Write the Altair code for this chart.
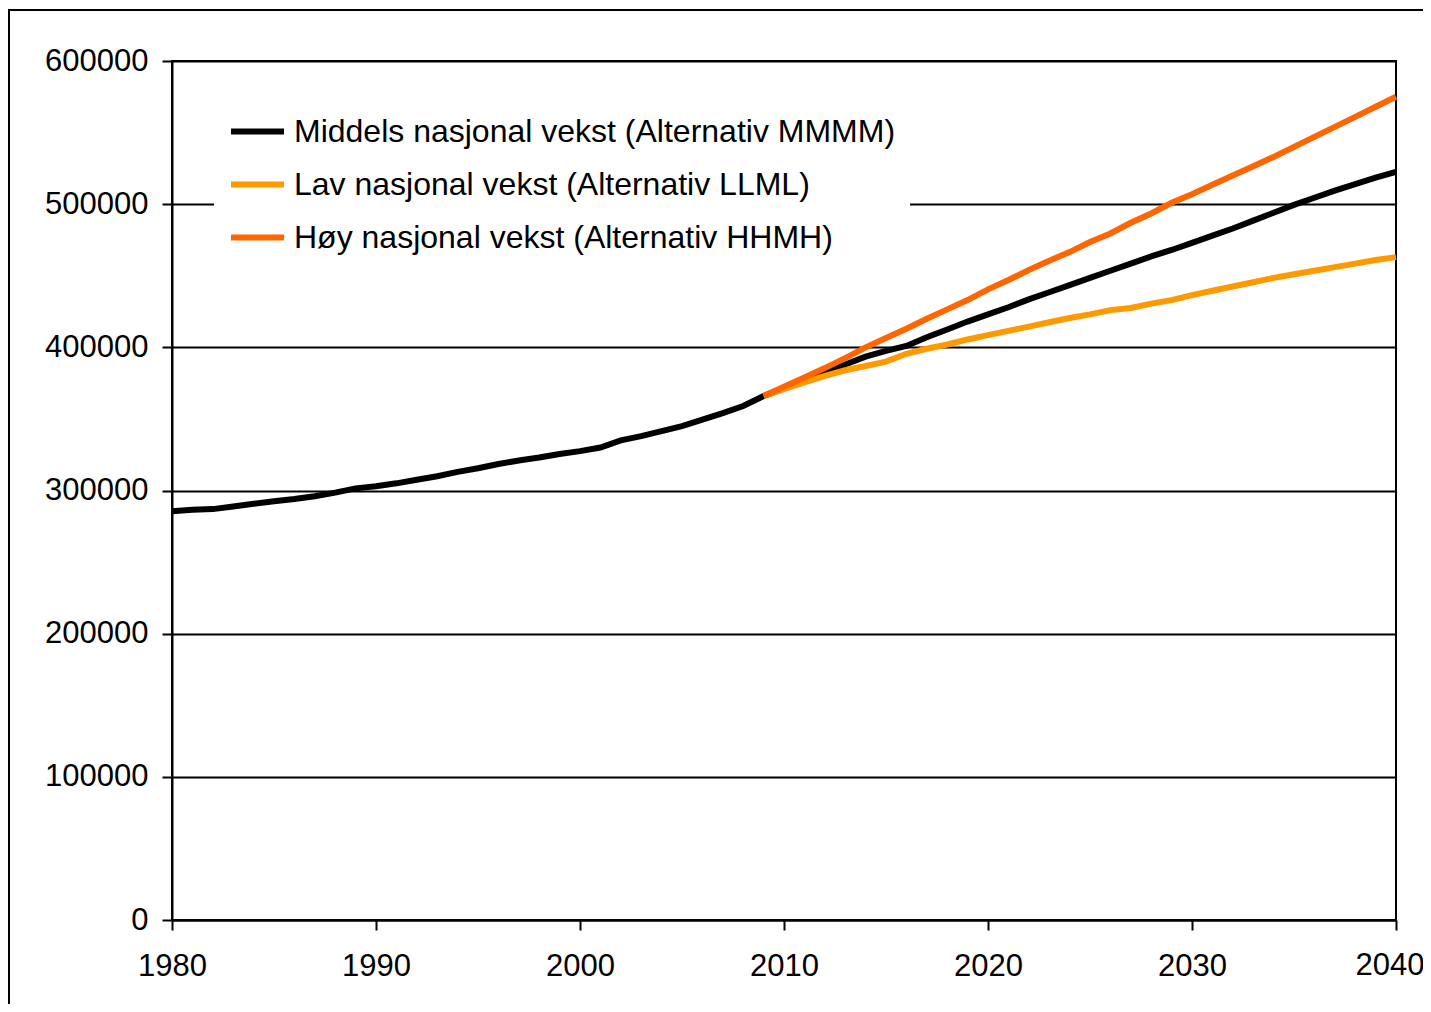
import altair as alt
import pandas as pd

S_M = "Middels nasjonal vekst (Alternativ MMMM)"
S_L = "Lav nasjonal vekst (Alternativ LLML)"
S_H = "Høy nasjonal vekst (Alternativ HHMH)"

hist_years = list(range(1980, 2009))
hist_values = [285500, 286500, 287000, 288800, 290700, 292500, 294000, 296000,
               298500, 301500, 303000, 305000, 307500, 310000, 313000, 315500,
               318500, 321000, 323000, 325500, 327500, 330000, 335000, 338000,
               341500, 345000, 349500, 354000, 359000]

proj_years = list(range(2009, 2041))
middels = [366000, 371500, 377000, 382000, 388000, 393500, 397500, 401000,
           407000, 412500, 418000, 423000, 428000, 433500, 438500, 443500,
           448500, 453500, 458500, 463500, 468000, 473000, 478000, 483000,
           488500, 494000, 499500, 504500, 509500, 514000, 518500, 522500]
lav = [366000, 370800, 375500, 380000, 384000, 387000, 390000, 395500,
       399000, 402000, 405500, 408500, 411500, 414500, 417500, 420500,
       423000, 426000, 427500, 430500, 433000, 436500, 439500, 442500,
       445500, 448500, 451000, 453500, 456000, 458500, 461000, 463000]
hoy = [366000, 372500, 379000, 385500, 392500, 400000, 406500, 413000,
       420000, 426500, 433000, 440500, 447000, 454000, 460500, 466500,
       473500, 479500, 487000, 493500, 501000, 507000, 513500, 520000,
       526500, 533000, 540000, 547000, 554000, 561000, 568000, 575000]

x_ticks = [1980, 1990, 2000, 2010, 2020, 2030, 2040]
y_ticks = [0, 100000, 200000, 300000, 400000, 500000, 600000]

series_names = [S_M, S_L, S_H]
series_colors = ["#000000", "#FF9900", "#FF6600"]

rows = []
for yr, v in zip(hist_years, hist_values):
    rows.append({"year": yr, "value": v, "series": S_M})
for yr, v in zip(proj_years, middels):
    rows.append({"year": yr, "value": v, "series": S_M})
for yr, v in zip(proj_years, lav):
    rows.append({"year": yr, "value": v, "series": S_L})
for yr, v in zip(proj_years, hoy):
    rows.append({"year": yr, "value": v, "series": S_H})
df = pd.DataFrame(rows)

FONT = "Liberation Sans"
last_tick = x_ticks[-1]

x_scale = alt.Scale(domain=[1980, 2040], nice=False, zero=False)

lines = alt.Chart(df).mark_line(strokeWidth=6).encode(
    x=alt.X("year:Q", scale=x_scale,
            axis=alt.Axis(values=x_ticks, format="d", title=None, grid=False,
                          labelFlush=False, labelOverlap=False,
                          tickSize=10, labelPadding=21,
                          labelExpr="datum.value == %d ? '' : datum.label" % last_tick)),
    y=alt.Y("value:Q",
            scale=alt.Scale(domain=[0, 600000], nice=False),
            axis=alt.Axis(values=y_ticks, format="d", title=None, grid=True,
                          tickSize=10, labelPadding=14, labelOverlap=False)),
    color=alt.Color("series:N",
                    scale=alt.Scale(domain=series_names, range=series_colors),
                    legend=alt.Legend(title=None, orient="none", legendX=42, legendY=27,
                                      symbolType="stroke", symbolSize=2809,
                                      symbolStrokeWidth=6, labelFontSize=32,
                                      labelFont=FONT, labelColor="black",
                                      fillColor="white", padding=14,
                                      rowPadding=7, labelOffset=7,
                                      labelLimit=1000)),
)

# last x-axis label, nudged so it stays inside the page
last_label = alt.Chart(pd.DataFrame({"year": [last_tick], "label": [str(last_tick)]})).mark_text(
    font=FONT, fontSize=31, color="black", baseline="top", align="center", dx=-6
).encode(
    x=alt.X("year:Q", scale=x_scale),
    y=alt.value(890),
    text="label:N",
)

frame = alt.Chart(pd.DataFrame({"a": [0]})).mark_rect(
    fillOpacity=0, stroke="black", strokeWidth=2
).encode(
    x=alt.value(-163), x2=alt.value(1300),
    y=alt.value(-51), y2=alt.value(1000)
)

chart = alt.layer(frame, lines, last_label).properties(
    width=1224, height=859,
    autosize=alt.AutoSizeParams(type="none"),
    padding={"left": 164, "top": 53, "right": 27, "bottom": 84},
    background="white",
).configure_axis(
    domainColor="black", domainWidth=2,
    tickColor="black", tickWidth=2,
    gridColor="black", gridWidth=1.8, gridOpacity=1,
    labelFont=FONT, labelFontSize=31, labelColor="black",
).configure_view(stroke="black", strokeWidth=2)

chart.save("out.html", embed_options={"renderer": "svg", "actions": False})
